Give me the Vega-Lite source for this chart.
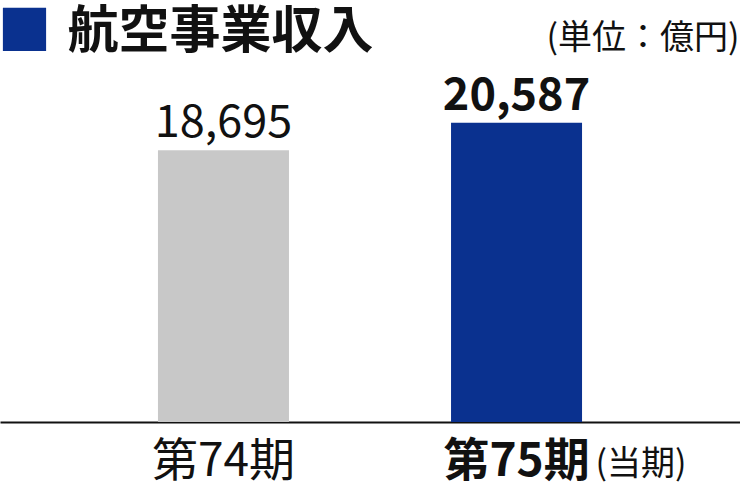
{
  "$schema": "https://vega.github.io/schema/vega-lite/v6.json",
  "width": 740,
  "height": 352,
  "autosize": {"type": "none"},
  "padding": {"left": 0, "right": 0, "top": 70, "bottom": 62},
  "background": "white",
  "config": {"view": {"stroke": null}, "font": "Noto Sans CJK JP"},
  "data": {
    "values": [
      {"period": "第74期", "value": 18695, "current": false, "note": ""},
      {"period": "第75期", "value": 20587, "current": true, "note": "(当期)"}
    ]
  },
  "resolve": {"axis": {"x": "independent", "y": "independent"}},
  "layer": [
    {
      "mark": {"type": "bar"},
      "encoding": {
        "x": {
          "field": "period", "type": "nominal", "sort": null,
          "scale": {"paddingInner": 0.553, "paddingOuter": 0.539},
          "axis": {
            "orient": "bottom", "title": null, "ticks": false, "domain": true,
            "domainColor": "#111111", "domainWidth": 2, "labelAngle": 0,
            "labelFont": "Noto Sans CJK JP", "labelFontSize": 46, "labelColor": "#111111",
            "labelFontWeight": {"condition": {"test": "datum.value === '第75期'", "value": "bold"}, "value": "normal"},
            "labelBaseline": "alphabetic", "labelPadding": 53, "grid": false
          }
        },
        "y": {
          "field": "value", "type": "quantitative",
          "scale": {"domain": [0, 24218], "nice": false, "zero": true},
          "axis": {
            "orient": "left", "title": "■", "titleAngle": 0, "titleX": -3, "titleY": -21,
            "titleAlign": "left", "titleBaseline": "alphabetic", "titleColor": "#0a318f",
            "titleFontSize": 54, "titleFont": "Noto Sans CJK JP", "titleFontWeight": "normal",
            "labels": false, "ticks": false, "domain": false, "grid": false
          }
        },
        "color": {
          "field": "period", "type": "nominal",
          "scale": {"domain": ["第74期", "第75期"], "range": ["#c8c8c8", "#0a318f"]},
          "legend": null
        }
      }
    },
    {
      "transform": [{"filter": "!datum.current"}],
      "mark": {"type": "text", "baseline": "alphabetic", "dy": -13, "fontSize": 45, "font": "Noto Sans CJK JP", "color": "#111111"},
      "encoding": {
        "x": {
          "field": "period", "type": "nominal", "sort": null,
          "axis": {
            "orient": "top", "title": "航空事業収入", "titleFontSize": 51, "titleFontWeight": "bold",
            "titleFont": "Noto Sans CJK JP", "titleColor": "#111111", "titleX": 67, "titleY": -23,
            "titleAlign": "left", "titleBaseline": "alphabetic",
            "labels": false, "ticks": false, "domain": false, "grid": false
          }
        },
        "y": {
          "field": "value", "type": "quantitative",
          "axis": {
            "orient": "right", "title": "(単位：億円)", "titleAngle": 0, "titleX": -1, "titleY": -22,
            "titleAlign": "right", "titleBaseline": "alphabetic", "titleFontSize": 34,
            "titleFontWeight": "normal", "titleFont": "Noto Sans CJK JP", "titleColor": "#111111",
            "labels": false, "ticks": false, "domain": false, "grid": false
          }
        },
        "text": {"field": "value", "type": "quantitative", "format": ","}
      }
    },
    {
      "transform": [{"filter": "datum.current"}],
      "mark": {"type": "text", "baseline": "alphabetic", "dy": -13, "fontSize": 45, "fontWeight": "bold", "font": "Noto Sans CJK JP", "color": "#111111"},
      "encoding": {
        "x": {"field": "period", "type": "nominal", "sort": null, "axis": null},
        "y": {"field": "value", "type": "quantitative", "axis": null},
        "text": {"field": "value", "type": "quantitative", "format": ","}
      }
    },
    {
      "transform": [{"filter": "datum.current"}],
      "mark": {"type": "text", "align": "left", "baseline": "alphabetic", "dx": 79, "dy": 53, "fontSize": 34, "font": "Noto Sans CJK JP", "color": "#111111"},
      "encoding": {
        "x": {"field": "period", "type": "nominal", "sort": null, "axis": null},
        "y": {"datum": 0, "type": "quantitative", "axis": null},
        "text": {"field": "note"}
      }
    }
  ]
}
